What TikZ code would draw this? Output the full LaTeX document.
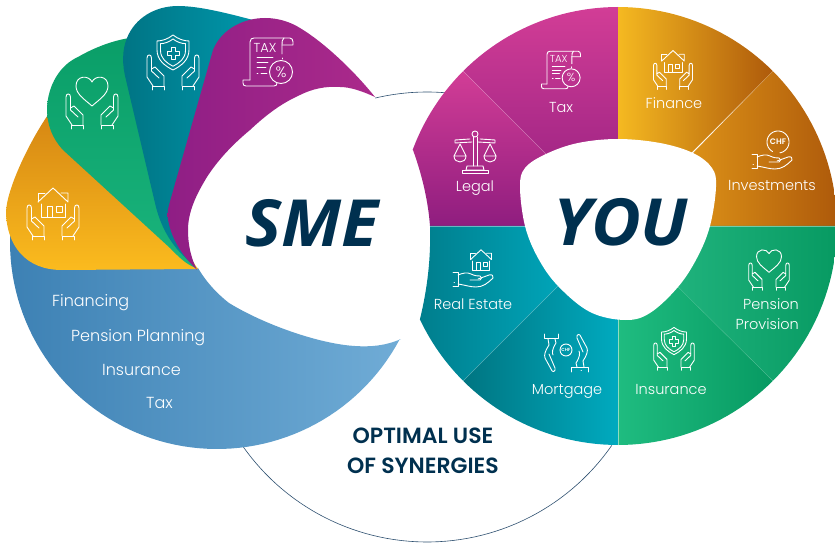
\documentclass[tikz,border=0pt]{standalone}
\usepackage{fontspec}
\setmainfont{Poppins}[UprightFont=* Light,BoldFont=* SemiBold]
\newfontfamily\logofont{Open Sans}
\definecolor{navy}{HTML}{00304F}
\definecolor{ringline}{HTML}{2D4F6F}
\definecolor{blueA}{HTML}{3D81B4}
\definecolor{blueB}{HTML}{6AA8D3}
\definecolor{blueC}{HTML}{70ACD6}
\definecolor{yellowA}{HTML}{D58613}
\definecolor{yellowB}{HTML}{FBBB1E}
\definecolor{greenA}{HTML}{0A9E68}
\definecolor{greenB}{HTML}{1AB47C}
\definecolor{tealA}{HTML}{007484}
\definecolor{tealB}{HTML}{0096AA}
\definecolor{purpleA}{HTML}{8F1E85}
\definecolor{purpleB}{HTML}{AB2A8B}
\definecolor{pinkA}{HTML}{D23D96}
\definecolor{pinkB}{HTML}{8F1D7F}
\definecolor{amberA}{HTML}{F5B921}
\definecolor{amberB}{HTML}{DB9017}
\definecolor{brown}{HTML}{AE5A0B}
\definecolor{seaA}{HTML}{007E8D}
\definecolor{seaB}{HTML}{00A4B8}
\definecolor{seaC}{HTML}{007581}
\definecolor{seaD}{HTML}{00AABF}
\definecolor{mintA}{HTML}{1FBC80}
\definecolor{mintB}{HTML}{079A62}
\definecolor{mintC}{HTML}{1FB27C}
\tikzset{
  iconline/.style={draw=white,line width=.9pt,line join=round,line cap=round},
  wheellabel/.style={text=white,font=\fontsize{14.5}{14.5}\selectfont,inner sep=0pt,anchor=base},
  listlabel/.style={text=white,font=\fontsize{16}{16}\selectfont,inner sep=0pt,anchor=base west},
  wordmark/.style={text=navy,font=\logofont\bfseries\itshape\fontsize{65}{65}\selectfont,inner sep=0pt,anchor=base,xscale=1.05,transform shape},
  synergy/.style={text=navy,font=\bfseries\fontsize{22}{22}\selectfont,inner sep=0pt,anchor=base},
  divider/.style={draw=white,draw opacity=.22,line width=.4pt},
  pics/carehands/.style={code={
    \foreach \s in {1,-1} {
      \begin{scope}[xscale=\s]
      \draw[iconline] (-21,26) -- (-21,22) -- (-9,22) -- (-9,26);
      \draw[iconline] (-20,22) -- (-26,13) -- (-26,-6) .. controls (-26,-10) and (-21.5,-10) .. (-21.5,-6) -- (-21.5,5) -- (-18,3) -- (-9,12) -- (-9,22);
      \draw[iconline] (-21.5,5) -- (-21.5,7) -- (-14,14);
      \end{scope}
    }
  }},
  pics/houseshape/.style={code={
    \draw[iconline] (-15,-12) -- (0,-26) -- (15,-12) -- (15,-21) -- (8,-21);
    \draw[iconline] (-8,-21) -- (-15,-21) -- (-15,-12);
    \draw[iconline] (-12,-10) -- (-12,3) -- (12,3) -- (12,-10);
    \draw[iconline] (-6,3) -- (-6,-8) -- (-1,-8) -- (-1,3);
    \draw[iconline] (3,-8) rectangle (9,-2);
  }},
  pics/heartshape/.style={code={
    \draw[iconline] (0,3) .. controls (-8,-4) and (-16,-9) .. (-16,-17) .. controls (-16,-28) and (-3,-28) .. (0,-21) .. controls (3,-28) and (16,-28) .. (16,-17) .. controls (16,-9) and (8,-4) .. (0,3);
  }},
  pics/shieldshape/.style={code={
    \foreach \k in {1,.78} {
      \begin{scope}[shift={(0,-11)},scale=\k]
      \draw[iconline] (0,-18) .. controls (-5,-14) and (-11,-12) .. (-16,-12) -- (-16,-3) .. controls (-16,7) and (-8,13) .. (0,17) .. controls (8,13) and (16,7) .. (16,-3) -- (16,-12) .. controls (11,-12) and (5,-14) .. (0,-18);
      \end{scope}
    }
    \draw[iconline] (-2,-17) -- (2,-17) -- (2,-13) -- (6,-13) -- (6,-9) -- (2,-9) -- (2,-5) -- (-2,-5) -- (-2,-9) -- (-6,-9) -- (-6,-13) -- (-2,-13) -- cycle;
  }},
  pics/taxdoc/.style={code={
    \draw[iconline] (-18,18) -- (-18,-20) .. controls (-18,-23) and (-16,-24) .. (-14,-24) -- (22,-24) .. controls (24,-24) and (25,-22) .. (25,-20) -- (25,-17) -- (14,-17);
    \draw[iconline] (16,-24) .. controls (14,-23) and (14,-20) .. (14,-17) -- (14,-8);
    \draw[iconline] (14,-4) -- (14,-3);
    \draw[iconline] (-18,18) -- (-25,18) -- (-25,21) .. controls (-25,23) and (-24,24) .. (-22,24) -- (6,24) .. controls (8,24) and (9,23) .. (9,21);
    \draw[iconline] (13,10) circle (11.5);
    \draw[iconline] (-11,-5) -- (5,-5) (-11,0) -- (0,0) (-11,5) -- (-2,5) (-11,11) -- (-10,11) (-7,11) -- (-1,11);
    \node[transform shape,text=white,inner sep=0pt,font=\fontsize{13}{13}\selectfont] (-word) at (-3,-14) {TAX};
    \node[transform shape,text=white,inner sep=0pt,font=\fontsize{15}{15}\selectfont] (-sign) at (13,10) {\%};
  }},
  pics/scalesign/.style={code={
    \draw[iconline] (0,-18) circle (3);
    \draw[iconline] (-20,-9) -- (-20,-12) -- (-5,-13) (20,-9) -- (20,-12) -- (5,-13) (-20,-9) -- (-3,-10) (20,-9) -- (3,-10);
    \draw[iconline] (-2,-15) -- (-2,14) (2,-15) -- (2,14);
    \foreach \s in {1,-1} {
      \begin{scope}[xscale=\s]
      \draw[iconline] (-15,-8) -- (-21,4) -- (-9,4) -- cycle;
      \draw[iconline] (-21,4) .. controls (-21,12) and (-9,12) .. (-9,4);
      \end{scope}
    }
    \draw[iconline] (-8,14) -- (8,14) -- (9,18) -- (-9,18) -- cycle;
    \draw[iconline] (-13,18) rectangle (13,21);
  }},
  pics/openhand/.style={code={
    \draw[iconline] (-20,2.5) -- (-15,2.5) -- (-15,16.5) -- (-20,16.5);
    \draw[iconline] (-19,12.5) -- (-18.5,12.5);
    \draw[iconline] (-15,5) .. controls (-10,3) and (-6,2) .. (-2,4) .. controls (2,6) and (5,6) .. (7,6) .. controls (9,7) and (9,9) .. (7,10) -- (-3,10);
    \draw[iconline] (5,9) -- (16,5) .. controls (19,4) and (21,6) .. (20,8) .. controls (15,13) and (10,17) .. (3,17) .. controls (-3,17) and (-8,15) .. (-15,14);
  }},
  pics/mortgagehands/.style={code={
    \foreach \r in {0,180} {
      \begin{scope}[rotate=\r]
      \draw[iconline] (-18,-14) -- (-17,-8) .. controls (-21,-2) and (-22,2) .. (-21,5) -- (-15,16) .. controls (-14,20) and (-10,19) .. (-11,15) -- (-17,1);
      \draw[iconline] (-11,-14) -- (-10,-10) .. controls (-14,-4) and (-14,0) .. (-13,2);
      \end{scope}
    }
    \draw[iconline] (-22,-19) -- (-22,-15) -- (-8,-15) -- (-8,-19);
    \draw[iconline] (5,19) -- (5,14) -- (22,14) -- (22,19);
    \draw[iconline] (15,17) -- (15.5,17);
    \draw[iconline] (0,-3) circle (6);
    \node[transform shape,text=white,inner sep=0pt,font=\bfseries\fontsize{4.5}{4.5}\selectfont] (-word) at (0,-3) {CHF};
  }}
}
\begin{document}
\begin{tikzpicture}[x=1pt,y=-1pt]
\useasboundingbox (0,0) rectangle (835,545);
% ring behind both wheels
\draw[ringline,line width=.6pt] plot[domain=34.8:145,samples=60] ({427+225*cos(\x)},{317+225*sin(\x)});
\draw[ringline,line width=.6pt] plot[domain=256.7:275,samples=20] ({427+225*cos(\x)},{317+225*sin(\x)});
% left wheel
\path[left color=blueA,middle color=blueB,right color=blueC]
  plot[domain=182:28,samples=70] ({217+207*cos(\x)},{242+207*sin(\x)}) -- (401,339) .. controls (385,346) and (370,347) .. (355,346) .. controls (320,344) and (265,325) .. (229,303) .. controls (215,292) and (205,280) .. (198,268) -- cycle;
\path[top color=yellowA,bottom color=yellowB]
  (198,269) -- (62,270) .. controls (25,270) and (7,245) .. (6,213) .. controls (6,190) and (30,140) .. (50,112) -- (150,200) -- cycle;
\path[top color=greenA,bottom color=greenB]
  (196,268) .. controls (185,264) and (177,255) .. (170,248) -- (63,150) .. controls (52,138) and (47,125) .. (47,108) .. controls (48,85) and (60,65) .. (78,57) .. controls (95,47) and (115,40) .. (130,38) -- (220,100) -- (175,225) -- cycle;
\path[left color=tealA,right color=tealB]
  (190,262) .. controls (170,245) and (160,225) .. (155,203) -- (126,80) .. controls (122,65) and (122,50) .. (127,38) .. controls (135,18) and (155,6) .. (178,6) .. controls (200,6) and (230,14) .. (253,20) -- (230,100) -- (175,225) -- cycle;
\path[left color=purpleA,right color=purpleB]
  (197,270) .. controls (185,258) and (175,245) .. (170,228) .. controls (167,218) and (167,212) .. (169,205) -- (213,50) .. controls (222,28) and (245,18) .. (265,18) .. controls (280,18) and (292,23) .. (300,28) .. controls (325,43) and (355,72) .. (375,97) .. controls (362,91) and (350,87) .. (340,87) .. controls (325,86) and (312,89) .. (300,95) .. controls (280,104) and (265,116) .. (250,130) .. controls (232,145) and (218,160) .. (207,177) .. controls (196,195) and (188,212) .. (188,230) .. controls (188,245) and (191,258) .. (197,270) -- cycle;
% right wheel
\path[top color=pinkA,bottom color=pinkB]
  (618,226) -- plot[domain=225:270,samples=25] ({618+219*cos(\x)},{226+219*sin(\x)}) -- cycle;
\path[top color=pinkA,bottom color=pinkB]
  (430,226) .. controls (428,200) and (422,175) .. (413,150) -- plot[domain=200.3:225,samples=15] ({618+219*cos(\x)},{226+219*sin(\x)}) -- (546,154) -- (530,226) -- cycle;
\path[left color=amberA,right color=brown]
  (618,226) -- plot[domain=270:315,samples=25] ({618+219*cos(\x)},{226+219*sin(\x)}) -- cycle;
\path[left color=amberB,right color=brown]
  (693,153) -- plot[domain=-45:0,samples=25] ({618+219*cos(\x)},{226+219*sin(\x)}) -- (700,226) -- cycle;
\path[left color=seaA,right color=seaB]
  (430,226) .. controls (431,260) and (427,290) .. (420,319) -- plot[domain=154.8:135,samples=15] ({618+219*cos(\x)},{226+219*sin(\x)}) -- (558,286) -- (530,226) -- cycle;
\path[left color=seaC,right color=seaD]
  (558,286) -- plot[domain=135:90,samples=25] ({618+219*cos(\x)},{226+219*sin(\x)}) -- (618,300) -- cycle;
\path[left color=mintA,right color=mintB]
  (618,226) -- plot[domain=90:45,samples=25] ({618+219*cos(\x)},{226+219*sin(\x)}) -- cycle;
\path[left color=mintC,right color=mintB]
  (678,287) -- plot[domain=45:0,samples=25] ({618+219*cos(\x)},{226+219*sin(\x)}) -- (700,226) -- cycle;
\draw[divider] (463,71) -- (546,154);
\draw[divider] (773,71) -- (693,153);
\draw[divider] (463,381) -- (558,286);
\draw[divider] (773,381) -- (678,287);
\draw[divider,draw opacity=.5,line width=.7pt] (618,300) -- (618,445);
\draw[divider,draw opacity=.4,line width=.6pt] (430,226) -- (837,226);
\fill[white] plot[smooth cycle,tension=.6] coordinates {(618,139) (660,143) (693,153) (712,168) (716,187) (710,226) (697,258) (678,287) (650,313) (625,320) (590,312) (558,286) (538,258) (525,226) (520,187) (525,168) (546,154) (578,143)};
% words
\node[wordmark] (sme) at (312,247) {SME};
\node[wordmark] (you) at (621,246) {YOU};
\node[synergy] (useline) at (423,443) {OPTIMAL USE};
\node[synergy] (synline) at (423,473) {OF SYNERGIES};
\node[wheellabel] (tax) at (561,113) {Tax};
\node[wheellabel] (finance) at (674,109) {Finance};
\node[wheellabel] (legal) at (475,192) {Legal};
\node[wheellabel] (invest) at (772,191) {Investments};
\node[wheellabel] (estate) at (473,309) {Real Estate};
\node[wheellabel] (mortgage) at (567,394) {Mortgage};
\node[wheellabel] (insurance) at (671,394) {Insurance};
\node[wheellabel,anchor=base east] (pension) at (799,309) {Pension};
\node[wheellabel,anchor=base east] (provision) at (799,329) {Provision};
\node[listlabel] (fin) at (52,306) {Financing};
\node[listlabel] (plan) at (71,341) {Pension Planning};
\node[listlabel] (ins) at (102,375) {Insurance};
\node[listlabel] (taxleft) at (146,408) {Tax};
% icons left
\pic (housecare) at (53,214) {carehands};
\pic (househome) at (53,214) {houseshape};
\pic (heartcare) at (92,103) {carehands};
\pic (hearthome) at (92,103) {heartshape};
\pic (shieldcare) at (173,64) {carehands};
\pic (shieldhome) at (173,64) {shieldshape};
\pic (taxbig) at (268,62) {taxdoc};
% icons right
\pic[scale=.78] (taxsmall) at (561,70) {taxdoc};
\pic[scale=.75] (fincare) at (673,70) {carehands};
\pic[scale=.75] (finhome) at (673,70) {houseshape};
\pic (scales) at (475,152) {scalesign};
\pic (chfhand) at (772,152) {openhand};
\draw[iconline] plot[domain=80:-240,samples=40] ({778+11*cos(\x)},{142+11*sin(\x)});
\node[text=white,inner sep=0pt,font=\bfseries\fontsize{8}{8}\selectfont] (chfword) at (778,142) {CHF};
\pic (estatehand) at (473,270) {openhand};
\pic[scale=.7] (estatehome) at (481,268) {houseshape};
\pic (mortgages) at (566,353) {mortgagehands};
\pic[scale=.78] (inscare) at (674,350) {carehands};
\pic[scale=.78] (inshome) at (674,350) {shieldshape};
\pic[scale=.78] (pencare) at (769,270) {carehands};
\pic[scale=.78] (penhome) at (769,270) {heartshape};
\end{tikzpicture}
\end{document}
